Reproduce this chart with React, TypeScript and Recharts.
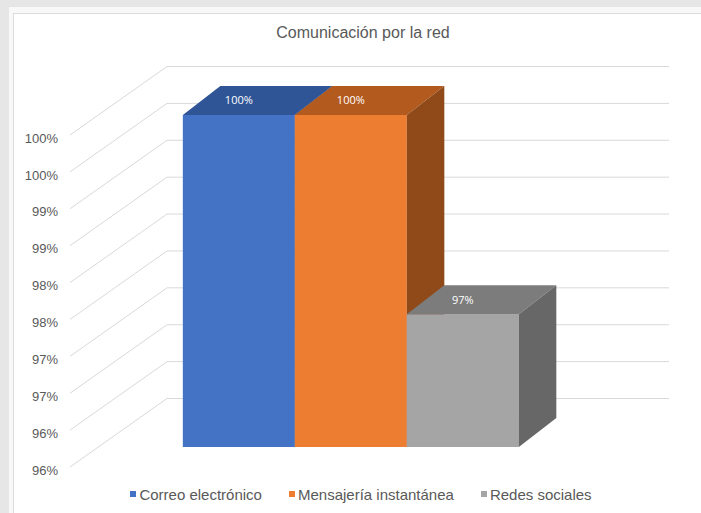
import React from 'react';
import { BarChart, Bar, XAxis, YAxis, CartesianGrid, Legend, LabelList } from 'recharts';

const categories = ['Comunicación por la red'];
const seriesNames = ['Correo electrónico', 'Mensajería instantánea', 'Redes sociales'];
const correoValues = [100];
const mensajeriaValues = [100];
const redesValues = [97.3];
const yTicks = [95.5, 96, 96.5, 97, 97.5, 98, 98.5, 99, 99.5, 100];

const data = categories.map((c, i) => ({
  name: c,
  correo: correoValues[i],
  mensajeria: mensajeriaValues[i],
  redes: redesValues[i],
}));

const FONT = '"Liberation Sans", Arial, sans-serif';
const GRID_DX = 97;
const GRID_DY = -68.5;
const BAR_SX = 29.5;
const BAR_SY = -20;
const DEPTH_DX = 37.5;
const DEPTH_DY = -29;

const palette = {
  correo: { front: '#4472c4', top: '#2f5597', side: '#2c4f8c' },
  mensajeria: { front: '#ed7d31', top: '#b35a1f', side: '#904a19' },
  redes: { front: '#a5a5a5', top: '#7c7c7c', side: '#676767' },
};

const make3DBar = (c: { front: string; top: string; side: string }) => (props: any) => {
  const { x, y, width, height } = props;
  if (x == null || y == null) return null;
  const fx = x + BAR_SX;
  const fy = y + BAR_SY;
  const w = width;
  const h = height;
  const top = `${fx},${fy} ${fx + DEPTH_DX},${fy + DEPTH_DY} ${fx + w + DEPTH_DX},${fy + DEPTH_DY} ${fx + w},${fy}`;
  const side = `${fx + w},${fy} ${fx + w + DEPTH_DX},${fy + DEPTH_DY} ${fx + w + DEPTH_DX},${fy + h + DEPTH_DY} ${fx + w},${fy + h}`;
  return (
    <g>
      <rect x={fx} y={fy} width={w} height={h} fill={c.front} />
      <polygon points={top} fill={c.top} />
      <polygon points={side} fill={c.side} />
    </g>
  );
};

const renderValueLabel = (props: any) => {
  const { x, y, width, value } = props;
  return (
    <text
      x={x + BAR_SX + width / 2}
      y={y + BAR_SY - 14.5}
      dy="0.35em"
      textAnchor="middle"
      fill="#ffffff"
      fontSize={11}
      fontFamily='"Open Sans", "DejaVu Sans", sans-serif'
    >
      {Math.round(value)}%
    </text>
  );
};

const renderTick = (props: any) => {
  const { x, y, payload } = props;
  return (
    <text x={x} y={y + 3} dy="0.355em" textAnchor="end" fontSize={13} fill="#595959" fontFamily={FONT}>
      {Math.round(payload.value)}%
    </text>
  );
};

const renderGridLine = (props: any) => {
  const { x1, y1, x2 } = props;
  return (
    <g key={`grid-${y1}`}>
      <line x1={x1} y1={y1} x2={x1 + GRID_DX} y2={y1 + GRID_DY} stroke="#d9d9d9" strokeWidth={1} />
      <line x1={x1 + GRID_DX} y1={y1 + GRID_DY} x2={x2 + GRID_DX} y2={y1 + GRID_DY} stroke="#d9d9d9" strokeWidth={1} />
    </g>
  );
};

const renderLegend = (props: any) => {
  const { payload } = props;
  return (
    <div
      style={{
        display: 'flex',
        justifyContent: 'center',
        alignItems: 'center',
        height: 18,
        fontFamily: FONT,
        fontSize: 15,
        color: '#595959',
        whiteSpace: 'nowrap',
      }}
    >
      {(payload || []).map((e: any, i: number) => (
        <div key={i} style={{ display: 'flex', alignItems: 'center', marginLeft: i ? 27 : 0 }}>
          <span style={{ display: 'inline-block', width: 6, height: 6, background: e.color, marginRight: 3 }} />
          <span>{e.value}</span>
        </div>
      ))}
    </div>
  );
};

export default function App() {
  return (
    <div style={{ position: 'absolute', left: 0, top: 0, width: 701, height: 513, background: '#e6e6e6', overflow: 'hidden' }}>
      <div style={{ position: 'absolute', left: 9, top: 7, width: 720, height: 530, background: '#f8f8f8' }} />
      <div style={{ position: 'absolute', left: 13, top: 13, width: 720, height: 530, background: '#ffffff', border: '1px solid #dcdcdc' }} />
      <div
        style={{
          position: 'absolute',
          left: 0,
          top: 23,
          width: 726,
          textAlign: 'center',
          fontFamily: FONT,
          fontSize: 16,
          lineHeight: '20px',
          color: '#595959',
        }}
      >
        Comunicación por la red
      </div>
      <div style={{ position: 'absolute', left: 0, top: 0 }}>
        <BarChart
          width={701}
          height={513}
          data={data}
          margin={{ top: 135, right: 129, bottom: 28, left: 0 }}
          barCategoryGap="16.6%"
          barGap={0}
        >
          <CartesianGrid horizontal={renderGridLine as any} vertical={false} />
          <XAxis dataKey="name" hide />
          <YAxis
            width={70}
            domain={[95.5, 100]}
            ticks={yTicks}
            interval={0}
            tickLine={false}
            axisLine={false}
            tickSize={0}
            tickMargin={12}
            tick={renderTick}
          />
          <Legend
            verticalAlign="bottom"
            content={renderLegend}
            wrapperStyle={{ left: 0, width: 722, top: 485, bottom: 'auto' }}
          />
          <Bar dataKey="correo" name={seriesNames[0]} fill={palette.correo.front} shape={make3DBar(palette.correo)} isAnimationActive={false}>
            <LabelList dataKey="correo" content={renderValueLabel} />
          </Bar>
          <Bar dataKey="mensajeria" name={seriesNames[1]} fill={palette.mensajeria.front} shape={make3DBar(palette.mensajeria)} isAnimationActive={false}>
            <LabelList dataKey="mensajeria" content={renderValueLabel} />
          </Bar>
          <Bar dataKey="redes" name={seriesNames[2]} fill={palette.redes.front} shape={make3DBar(palette.redes)} isAnimationActive={false}>
            <LabelList dataKey="redes" content={renderValueLabel} />
          </Bar>
        </BarChart>
      </div>
    </div>
  );
}
